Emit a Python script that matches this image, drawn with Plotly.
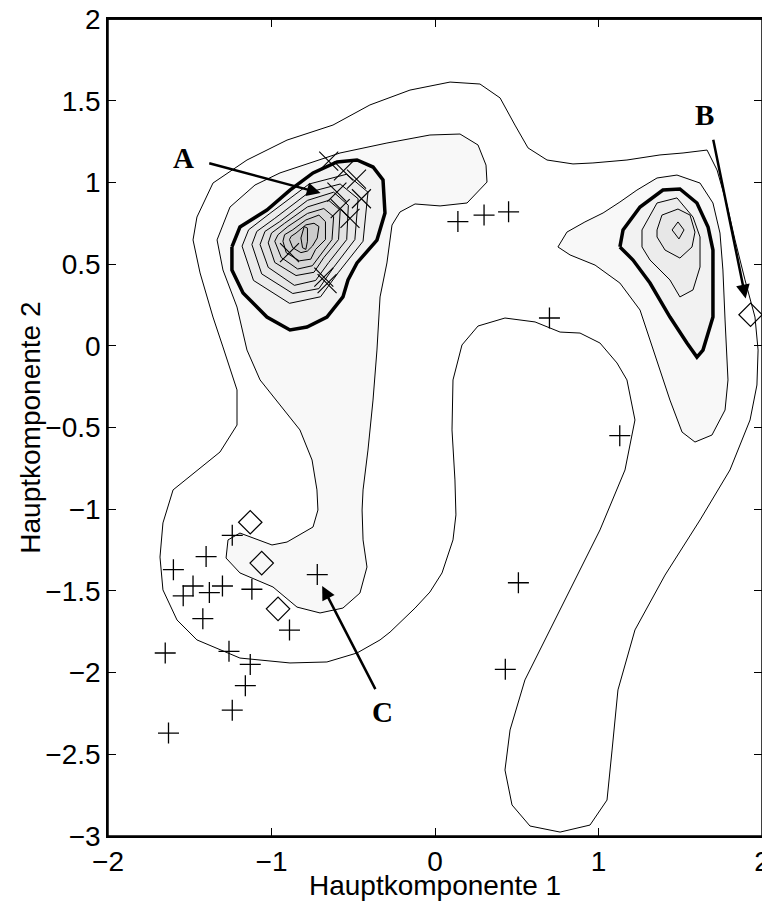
import plotly.graph_objects as go

# contour outlines (data coordinates)
outer_x = [-1.297, -1.358, -1.437, -1.480, -1.456, -1.358, -1.150, -0.905, -0.624, -0.398, -0.153, 0.092, 0.275, 0.398, 0.489, 0.569, 0.685, 0.844, 0.966, 1.174, 1.376, 1.517, 1.664, 1.725, 1.786, 1.835, 1.896, 1.957, 1.976, 1.969, 1.927, 1.804, 1.621, 1.407, 1.223, 1.119, 1.083, 1.052, 0.948, 0.765, 0.581, 0.471, 0.428, 0.459, 0.550, 0.673, 0.826, 1.009, 1.162, 1.223, 1.174, 1.113, 1.009, 0.887, 0.765, 0.612, 0.428, 0.263, 0.165, 0.110, 0.104, 0.122, 0.128, 0.110, 0.043, -0.031, -0.122, -0.214, -0.275, -0.336, -0.477, -0.661, -0.887, -1.193, -1.456, -1.578, -1.664, -1.682, -1.664, -1.602, -1.468, -1.315, -1.211, -1.211, -1.297]
outer_y = [-0.007, 0.176, 0.446, 0.648, 0.788, 0.996, 1.137, 1.259, 1.351, 1.474, 1.565, 1.614, 1.602, 1.517, 1.351, 1.211, 1.137, 1.113, 1.119, 1.137, 1.168, 1.180, 1.198, 1.076, 0.862, 0.648, 0.403, 0.176, -0.026, -0.240, -0.454, -0.760, -1.066, -1.403, -1.739, -2.106, -2.474, -2.780, -2.933, -2.976, -2.939, -2.810, -2.596, -2.351, -2.045, -1.800, -1.494, -1.127, -0.760, -0.454, -0.209, -0.105, 0.017, 0.078, 0.084, 0.146, 0.170, 0.121, 0.005, -0.209, -0.515, -0.821, -1.035, -1.188, -1.390, -1.507, -1.605, -1.696, -1.752, -1.800, -1.880, -1.935, -1.941, -1.911, -1.800, -1.678, -1.494, -1.293, -1.084, -0.882, -0.772, -0.650, -0.485, -0.270, -0.007]

tail_x = [-1.150, -1.211, -1.297, -1.333, -1.254, -1.101, -0.948, -0.581, -0.294, -0.031, 0.153, 0.263, 0.312, 0.318, 0.196, 0.031, -0.122, -0.214, -0.263, -0.294, -0.336, -0.355, -0.379, -0.410, -0.440, -0.446, -0.440, -0.416, -0.459, -0.563, -0.703, -0.844, -0.991, -1.193, -1.278, -1.266, -1.193, -1.113, -0.997, -0.905, -0.746, -0.716, -0.722, -0.752, -0.826, -0.948, -1.070, -1.150]
tail_y = [-0.026, 0.237, 0.464, 0.648, 0.849, 0.984, 1.058, 1.180, 1.241, 1.290, 1.296, 1.229, 1.106, 1.002, 0.874, 0.856, 0.868, 0.819, 0.739, 0.507, 0.299, -0.026, -0.332, -0.638, -0.882, -1.005, -1.188, -1.354, -1.513, -1.605, -1.635, -1.599, -1.476, -1.390, -1.299, -1.188, -1.146, -1.176, -1.219, -1.201, -1.109, -1.005, -0.882, -0.699, -0.515, -0.362, -0.209, -0.026]

b_low_x = [0.752, 0.807, 0.917, 1.028, 1.131, 1.235, 1.358, 1.480, 1.621, 1.700, 1.743, 1.761, 1.774, 1.792, 1.774, 1.694, 1.590, 1.511, 1.437, 1.346, 1.254, 1.131, 0.979, 0.826, 0.752]
b_low_y = [0.605, 0.696, 0.758, 0.813, 0.880, 0.953, 1.027, 1.045, 0.996, 0.874, 0.690, 0.464, 0.158, -0.209, -0.393, -0.546, -0.589, -0.528, -0.332, -0.056, 0.219, 0.384, 0.494, 0.556, 0.605]

a_bold_x = [-1.242, -1.193, -1.028, -0.887, -0.746, -0.599, -0.477, -0.379, -0.318, -0.306, -0.355, -0.477, -0.532, -0.563, -0.661, -0.783, -0.887, -1.028, -1.174, -1.242, -1.242]
a_bold_y = [0.605, 0.727, 0.831, 0.953, 1.058, 1.125, 1.137, 1.094, 1.015, 0.813, 0.647, 0.507, 0.403, 0.299, 0.176, 0.115, 0.097, 0.176, 0.323, 0.464, 0.605]

b_bold_x = [1.131, 1.150, 1.254, 1.394, 1.498, 1.602, 1.670, 1.700, 1.700, 1.639, 1.602, 1.541, 1.437, 1.315, 1.211, 1.131]
b_bold_y = [0.605, 0.709, 0.849, 0.953, 0.960, 0.874, 0.727, 0.586, 0.176, -0.026, -0.069, 0.017, 0.176, 0.384, 0.525, 0.605]

# inner rings of peak A (outer to inner)
a_rings = [
    ([-1.18, -1.14, -1.01, -0.77, -0.54, -0.41, -0.44, -0.59, -0.70, -0.89, -1.11, -1.18],
     [0.61, 0.71, 0.81, 0.99, 1.05, 0.94, 0.64, 0.45, 0.30, 0.26, 0.40, 0.61]),
    ([-1.12, -1.09, -0.98, -0.77, -0.58, -0.47, -0.49, -0.62, -0.71, -0.87, -1.06, -1.12],
     [0.62, 0.70, 0.78, 0.94, 0.99, 0.90, 0.65, 0.48, 0.35, 0.32, 0.44, 0.62]),
    ([-1.07, -1.04, -0.95, -0.78, -0.62, -0.53, -0.54, -0.65, -0.73, -0.86, -1.02, -1.07],
     [0.62, 0.70, 0.76, 0.89, 0.94, 0.86, 0.65, 0.51, 0.40, 0.37, 0.48, 0.62]),
    ([-1.02, -1.00, -0.92, -0.78, -0.65, -0.58, -0.59, -0.68, -0.74, -0.85, -0.98, -1.02],
     [0.63, 0.69, 0.75, 0.85, 0.89, 0.83, 0.65, 0.54, 0.45, 0.43, 0.51, 0.63]),
    ([-0.98, -0.96, -0.90, -0.78, -0.68, -0.62, -0.63, -0.70, -0.75, -0.84, -0.94, -0.98],
     [0.64, 0.68, 0.73, 0.81, 0.84, 0.79, 0.65, 0.56, 0.49, 0.47, 0.54, 0.64]),
    ([-0.93, -0.92, -0.87, -0.79, -0.71, -0.67, -0.67, -0.73, -0.76, -0.83, -0.91, -0.93],
     [0.64, 0.68, 0.71, 0.77, 0.80, 0.76, 0.65, 0.59, 0.53, 0.52, 0.57, 0.64]),
    ([-0.89, -0.88, -0.85, -0.79, -0.74, -0.71, -0.72, -0.75, -0.78, -0.82, -0.87, -0.89],
     [0.65, 0.67, 0.69, 0.74, 0.75, 0.73, 0.66, 0.61, 0.58, 0.57, 0.60, 0.65]),
    ([-0.81, -0.82, -0.80, -0.78, -0.78, -0.79, -0.81],
     [0.60, 0.66, 0.73, 0.72, 0.64, 0.59, 0.60]),
]

# inner rings of peak B
b_rings = [
    ([1.266, 1.358, 1.480, 1.578, 1.621, 1.621, 1.578, 1.498, 1.437, 1.315, 1.266, 1.266],
     [0.709, 0.874, 0.905, 0.788, 0.666, 0.482, 0.342, 0.299, 0.403, 0.525, 0.605, 0.709]),
    ([1.358, 1.388, 1.486, 1.560, 1.590, 1.572, 1.498, 1.407, 1.358, 1.358],
     [0.709, 0.800, 0.837, 0.800, 0.696, 0.605, 0.537, 0.586, 0.666, 0.709]),
    ([1.450, 1.486, 1.523, 1.492, 1.450],
     [0.709, 0.758, 0.709, 0.654, 0.709]),
]

a_fill = ['#ececec', '#e7e7e7', '#e2e2e2', '#dcdcdc', '#d7d7d7', '#d1d1d1', '#cbcbcb', '#c5c5c5']
b_fill = ['#ececec', '#e7e7e7', '#e2e2e2']

# observations
plus_x = [0.14, 0.30, 0.45, 0.70, 1.13, 0.51, 0.43, -1.24, -1.40, -1.60, -1.48, -1.54, -1.38, -1.30,
          -1.12, -0.72, -1.42, -0.89, -1.65, -1.26, -1.13, -1.16, -1.24, -1.63]
plus_y = [0.76, 0.80, 0.82, 0.17, -0.55, -1.45, -1.98, -1.16, -1.29, -1.37, -1.47, -1.53, -1.51, -1.47,
          -1.49, -1.40, -1.67, -1.74, -1.88, -1.87, -1.95, -2.08, -2.23, -2.37]

cross_x = [-0.65, -0.56, -0.48, -0.60, -0.45, -0.58, -0.52, -0.89, -0.68, -0.66]
cross_y = [1.13, 1.07, 1.02, 0.94, 0.90, 0.84, 0.78, 0.57, 0.42, 0.38]

diam_x = [-1.13, -1.06, -0.96, 1.93]
diam_y = [-1.08, -1.33, -1.61, 0.19]

fig = go.Figure()


def ring(x, y, fill, width=1):
    fig.add_trace(go.Scatter(
        x=x, y=y, mode='lines', fill='toself', fillcolor=fill,
        line=dict(color='black', width=width), hoverinfo='skip', showlegend=False
    ))


fig.add_trace(go.Scatter(x=outer_x, y=outer_y, mode='lines',
                         line=dict(color='black', width=1), hoverinfo='skip', showlegend=False))
ring(tail_x, tail_y, '#f8f8f8')
ring(b_low_x, b_low_y, '#f8f8f8')
ring(a_bold_x, a_bold_y, '#f2f2f2', width=3.5)
for (rx, ry), c in zip(a_rings, a_fill):
    ring(rx, ry, c)
ring(b_bold_x, b_bold_y, '#f2f2f2', width=3.5)
for (rx, ry), c in zip(b_rings, b_fill):
    ring(rx, ry, c)

fig.add_trace(go.Scatter(x=plus_x, y=plus_y, mode='markers', showlegend=False,
                         marker=dict(symbol='cross-thin-open', size=15, color='black',
                                     line=dict(color='black', width=1.3))))
fig.add_trace(go.Scatter(x=cross_x, y=cross_y, mode='markers', showlegend=False,
                         marker=dict(symbol='x-thin-open', size=19, color='black',
                                     line=dict(color='black', width=1.1))))
fig.add_trace(go.Scatter(x=diam_x, y=diam_y, mode='markers', showlegend=False,
                         marker=dict(symbol='diamond-open', size=18, color='black',
                                     line=dict(color='black', width=1.2))))

# labels and arrows
letters = ['A', 'B', 'C']
letter_x = [-1.54, 1.65, -0.32]
letter_y = [1.15, 1.41, -2.24]
tail_ax = [-1.39, 1.70, -0.36]
tail_ay = [1.12, 1.27, -2.11]
tip_x = [-0.70, 1.90, -0.69]
tip_y = [0.935, 0.29, -1.47]

for t, lx, ly in zip(letters, letter_x, letter_y):
    fig.add_annotation(x=lx, y=ly, text='<b>' + t + '</b>', showarrow=False,
                       font=dict(family='Liberation Serif', size=29, color='black'))
for hx, hy, sx, sy in zip(tip_x, tip_y, tail_ax, tail_ay):
    fig.add_annotation(x=hx, y=hy, ax=sx, ay=sy, axref='x', ayref='y', text='',
                       showarrow=True, arrowhead=2, arrowsize=1.1, arrowwidth=2.5, arrowcolor='black')

axis_font = dict(family='Liberation Sans', size=28, color='black')

# axis titles
fig.add_annotation(x=0.5, y=-0.061, xref='paper', yref='paper', text='Hauptkomponente 1',
                   showarrow=False, yanchor='middle', font=axis_font)
fig.add_annotation(x=-0.119, y=0.5, xref='paper', yref='paper', text='Hauptkomponente 2',
                   showarrow=False, textangle=-90, xanchor='center', font=axis_font)

# frame around the axes
fig.add_shape(type='rect', xref='paper', yref='paper', x0=0, y0=0, x1=1, y1=1,
              line=dict(color='black', width=1.5), layer='above')
fig.add_shape(type='line', xref='paper', yref='paper', x0=0, y0=1, x1=1, y1=1,
              line=dict(color='black', width=1.5), layer='above')

fig.update_xaxes(range=[-2, 2], dtick=1, ticks='inside', ticklen=8, tickcolor='black',
                 showline=True, mirror='ticks', linecolor='black', linewidth=1.5,
                 showgrid=False, zeroline=False, tickfont=axis_font, automargin=False,
                 ticklabeloverflow='allow')
fig.update_yaxes(range=[-3, 2], dtick=0.5, ticks='inside', ticklen=8, tickcolor='black',
                 showline=True, mirror='ticks', linecolor='black', linewidth=1.5,
                 showgrid=False, zeroline=False, tickfont=axis_font, automargin=False,
                 ticklabeloverflow='allow')

# the page body adds 8 px around the figure
fig.update_layout(width=762, height=898, margin=dict(l=100, r=8, t=11, b=70),
                  plot_bgcolor='white', paper_bgcolor='white')

fig.write_html('out.html')
